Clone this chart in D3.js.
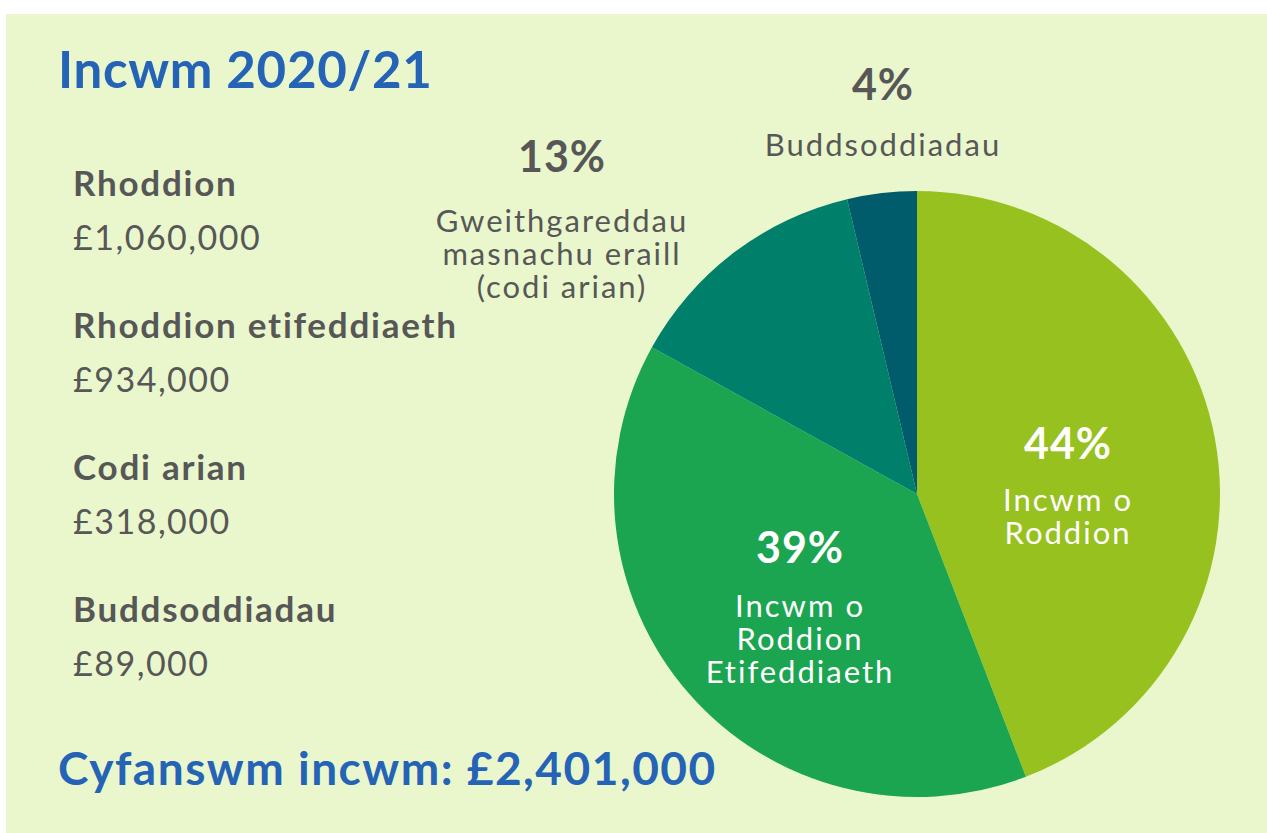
<!DOCTYPE html>
<html>
<head>
<meta charset="utf-8">
<script src="https://cdn.jsdelivr.net/npm/d3@7"></script>
<style>
  body { margin: 0; background: #fff; }
  svg { display: block; font-family: Lato, "Open Sans", sans-serif; }
</style>
</head>
<body>
<div id="chart"></div>
<script>
// data
const categories = ["Rhoddion", "Rhoddion etifeddiaeth", "Codi arian", "Buddsoddiadau"];
const values = [1060000, 934000, 318000, 89000];
const valueLabels = ["£1,060,000", "£934,000", "£318,000", "£89,000"];
const percentLabels = ["44%", "39%", "13%", "4%"];
const sliceLabels = [
    ["Incwm o", "Roddion"],
    ["Incwm o", "Roddion", "Etifeddiaeth"],
    ["Gweithgareddau", "masnachu eraill", "(codi arian)"],
    ["Buddsoddiadau"]
];
const title = "Incwm 2020/21";
const totalLabel = "Cyfanswm incwm: £2,401,000";

const colors = ["#97c11f", "#1ba550", "#007f6b", "#005b6b"];
const grey = "#575757", blue = "#2463b6";

const width = 1267, height = 833;

const svg = d3.select("#chart")
    .append("svg")
    .attr("width", width)
    .attr("height", height);

// panel
svg.append("rect")
    .attr("x", 6)
    .attr("y", 14)
    .attr("width", width - 6)
    .attr("height", height - 14)
    .attr("fill", "#eaf7cd");

// title + total
svg.append("text")
    .attr("x", 58).attr("y", 88)
    .attr("fill", blue)
    .style("font-size", "51px").style("font-weight", 700)
    .style("letter-spacing", "0.7px")
    .text(title);

svg.append("text")
    .attr("x", 58).attr("y", 785)
    .attr("fill", blue)
    .style("font-size", "46px").style("font-weight", 700)
    .style("letter-spacing", "1.5px")
    .text(totalLabel);

// left list
const list = svg.append("g").attr("transform", "translate(73,196)");
categories.forEach((c, i) => {
    list.append("text")
        .attr("y", i * 142)
        .attr("fill", grey)
        .style("font-size", "35px").style("font-weight", 700)
        .style("letter-spacing", "1.75px")
        .text(c);
    list.append("text")
        .attr("y", i * 142 + 54)
        .attr("fill", grey)
        .style("font-size", "34px")
        .style("letter-spacing", "1.5px")
        .text(valueLabels[i]);
});

// pie
const cx = 917, cy = 494, radius = 303;
const pie = d3.pie().sort(null).value(d => d);
const arc = d3.arc().innerRadius(0).outerRadius(radius);
const arcs = pie(values);

const g = svg.append("g").attr("transform", `translate(${cx},${cy})`);
g.selectAll("path")
    .data(arcs)
    .enter()
    .append("path")
    .attr("d", arc)
    .attr("fill", (d, i) => colors[i]);

// slice labels: offset of the percent baseline from the centre, gap to first line
const labelPos = [[151, -35, 52], [-117, 69, 54], [-355, -322, 60], [-34, -394, 56]];
const labelColor = ["#fff", "#fff", grey, grey];

arcs.forEach((d, i) => {
    const [dx, dy, gap] = labelPos[i];
    const lg = g.append("g")
        .attr("transform", `translate(${dx},${dy})`)
        .attr("text-anchor", "middle")
        .attr("fill", labelColor[i]);
    lg.append("text")
        .style("font-size", "43px").style("font-weight", 700)
        .style("letter-spacing", "1px")
        .text(percentLabels[i]);
    sliceLabels[i].forEach((t, j) => {
        lg.append("text")
            .attr("y", gap + j * 33)
            .style("font-size", "31px")
            .style("letter-spacing", "2px")
            .text(t);
    });
});
</script>
</body>
</html>
